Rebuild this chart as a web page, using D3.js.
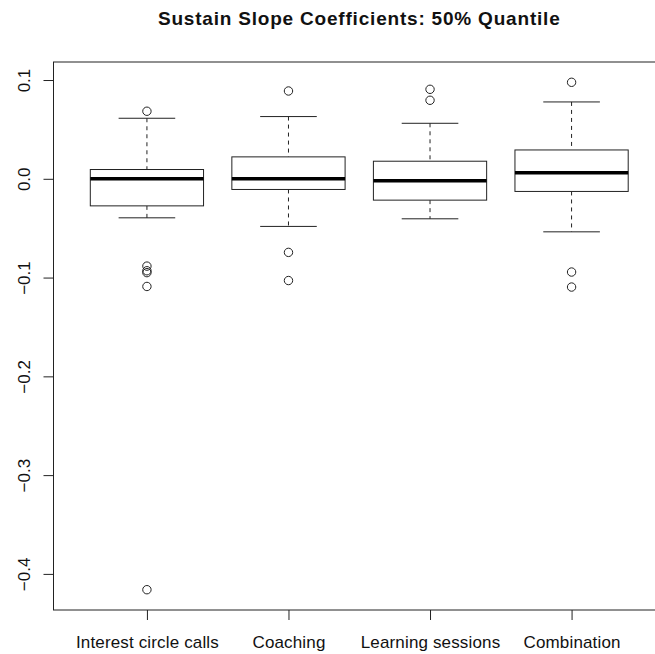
<!DOCTYPE html>
<html>
<head>
<meta charset="utf-8">
<script src="https://cdn.jsdelivr.net/npm/d3@7"></script>
<style>
  html, body { margin: 0; padding: 0; background: #fff; }
  svg { display: block; }
  text { font-family: "Liberation Sans", Arial, Helvetica, sans-serif; fill: #111; }
</style>
</head>
<body>
<svg id="chart" width="655" height="654"></svg>
<script>
// Treatment groups
const categories = ["Interest circle calls", "Coaching", "Learning sessions", "Combination"];

// Five-number summaries of the slope coefficients per group
const whiskerLow  = [-0.0395, -0.0482, -0.0405, -0.0537];
const q1          = [-0.0274, -0.0108, -0.0216, -0.0128];
const medians     = [ 0.0000,  0.0000, -0.0021,  0.0060];
const q3          = [ 0.0094,  0.0222,  0.0178,  0.0292];
const whiskerHigh = [ 0.0613,  0.0630,  0.0562,  0.0778];

// Points beyond the whiskers
const outliers = [
  [0.0684, -0.0884, -0.0931, -0.0950, -0.1090, -0.4160],
  [0.0889, -0.0745, -0.1030],
  [0.0906, 0.0795],
  [0.0977, -0.0944, -0.1096]
];

const yTicks = [0.1, 0.0, -0.1, -0.2, -0.3, -0.4];
const title = "Sustain Slope Coefficients: 50% Quantile";

const svg = d3.select("#chart");
const plot = { left: 53.5, right: 665, top: 62, bottom: 610 };

// Group positions 1..n, padded like a base-graphics boxplot
const n = categories.length;
const x = d3.scaleLinear()
  .domain([0.5 - 0.04 * n, n + 0.5 + 0.04 * n])
  .range([plot.left, plot.right]);

// y range: data extent widened by 4% each side
const allVals = whiskerLow.concat(whiskerHigh, outliers.flat());
const [lo, hi] = d3.extent(allVals);
const pad = (hi - lo) * 0.04;
const y = d3.scaleLinear().domain([lo - pad, hi + pad]).range([plot.bottom, plot.top]);

const boxHalf = 0.4, stapleHalf = 0.2;
const ink = "#222";

// Frame
svg.append("rect")
  .attr("x", plot.left).attr("y", plot.top)
  .attr("width", plot.right - plot.left).attr("height", plot.bottom - plot.top)
  .attr("fill", "none").attr("stroke", ink).attr("stroke-width", 1);

// Y axis
const yAxis = d3.axisLeft(y)
  .tickValues(yTicks)
  .tickSize(10)
  .tickFormat(d => d3.format(".1f")(d).replace("-", "\u2212"));
const gy = svg.append("g").attr("transform", `translate(${plot.left},0)`).call(yAxis);
gy.select(".domain").remove();
gy.selectAll(".tick line").attr("stroke", ink);
gy.selectAll(".tick text")
  .attr("x", null).attr("dy", null)
  .attr("text-anchor", "middle")
  .attr("transform", "translate(-24,0) rotate(-90)")
  .attr("font-size", 17)
  .attr("font-family", "'Liberation Sans', Arial, sans-serif")
  .attr("fill", "#111");

// X axis
const xAxis = d3.axisBottom(x)
  .tickValues(d3.range(1, n + 1))
  .tickSize(10)
  .tickFormat(d => categories[d - 1]);
const gx = svg.append("g").attr("transform", `translate(0,${plot.bottom})`).call(xAxis);
gx.select(".domain").remove();
gx.selectAll(".tick line").attr("stroke", ink);
gx.selectAll(".tick text")
  .attr("y", 38).attr("dy", null)
  .attr("font-size", 17)
  .attr("letter-spacing", "0.15px")
  .attr("font-family", "'Liberation Sans', Arial, sans-serif")
  .attr("fill", "#111");

// Boxes
const groups = svg.append("g").selectAll("g")
  .data(categories.map((c, i) => ({
    pos: i + 1, lo: whiskerLow[i], q1: q1[i], med: medians[i], q3: q3[i], hi: whiskerHigh[i], out: outliers[i]
  })))
  .join("g");

// dashed whiskers
groups.append("line")
  .attr("x1", d => x(d.pos)).attr("x2", d => x(d.pos))
  .attr("y1", d => y(d.hi)).attr("y2", d => y(d.q3))
  .attr("stroke", ink).attr("stroke-dasharray", "4,4");
groups.append("line")
  .attr("x1", d => x(d.pos)).attr("x2", d => x(d.pos))
  .attr("y1", d => y(d.q1)).attr("y2", d => y(d.lo))
  .attr("stroke", ink).attr("stroke-dasharray", "4,4");

// staples
groups.append("line")
  .attr("x1", d => x(d.pos - stapleHalf)).attr("x2", d => x(d.pos + stapleHalf))
  .attr("y1", d => y(d.hi)).attr("y2", d => y(d.hi))
  .attr("stroke", ink);
groups.append("line")
  .attr("x1", d => x(d.pos - stapleHalf)).attr("x2", d => x(d.pos + stapleHalf))
  .attr("y1", d => y(d.lo)).attr("y2", d => y(d.lo))
  .attr("stroke", ink);

// interquartile box
groups.append("rect")
  .attr("x", d => x(d.pos - boxHalf))
  .attr("width", d => x(d.pos + boxHalf) - x(d.pos - boxHalf))
  .attr("y", d => y(d.q3))
  .attr("height", d => y(d.q1) - y(d.q3))
  .attr("fill", "#fff").attr("stroke", ink).attr("stroke-width", 1);

// median
groups.append("line")
  .attr("x1", d => x(d.pos - boxHalf)).attr("x2", d => x(d.pos + boxHalf))
  .attr("y1", d => y(d.med)).attr("y2", d => y(d.med))
  .attr("stroke", "#000").attr("stroke-width", 3.5);

// outlier circles
groups.selectAll("circle")
  .data(d => d.out.map(v => ({ pos: d.pos, v })))
  .join("circle")
  .attr("cx", d => x(d.pos)).attr("cy", d => y(d.v))
  .attr("r", 4.2)
  .attr("fill", "none").attr("stroke", ink).attr("stroke-width", 1);

// Title
svg.append("text")
  .attr("x", (plot.left + plot.right) / 2)
  .attr("y", 25)
  .attr("text-anchor", "middle")
  .attr("font-size", 19)
  .attr("font-weight", "bold")
  .attr("letter-spacing", "0.8px")
  .text(title);
</script>
</body>
</html>
